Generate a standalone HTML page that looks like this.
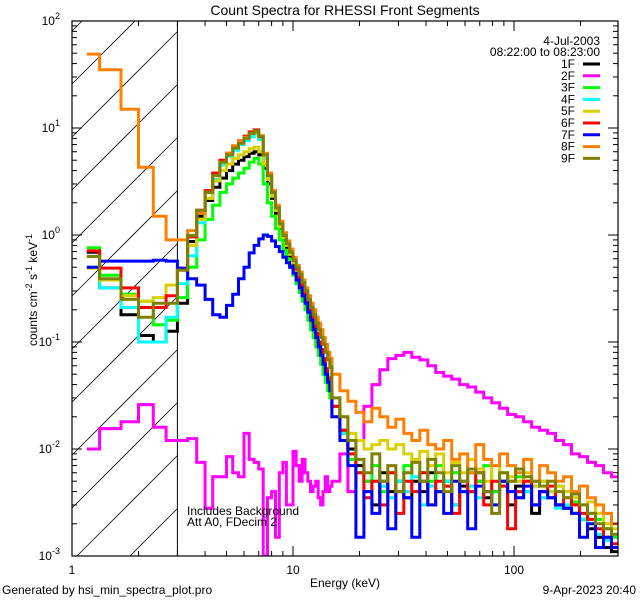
<!DOCTYPE html>
<html><head><meta charset="utf-8"><style>
html,body{margin:0;padding:0;background:#fff;width:640px;height:600px;overflow:hidden;}
svg{display:block;font-family:"Liberation Sans",sans-serif;}
</style></head><body>
<svg id="chart" width="640" height="600" viewBox="0 0 640 600" xmlns="http://www.w3.org/2000/svg">
<rect width="640" height="600" fill="#fff"/>
<text x="345" y="15" font-size="14" text-anchor="middle">Count Spectra for RHESSI Front Segments</text>
<defs><clipPath id="pc"><rect x="72" y="21" width="546" height="535"/></clipPath></defs>
<g id="hatch"></g>
<line x1="177.4" y1="21" x2="177.4" y2="556" stroke="#000" stroke-width="1"/>
<g id="series" clip-path="url(#pc)"></g>
<rect x="72" y="21" width="546" height="535" fill="none" stroke="#000" stroke-width="1.2"/>
<g id="ticks"></g>
<text x="345" y="587" font-size="12" text-anchor="middle">Energy (keV)</text>
<text transform="translate(37,290) rotate(-90)" font-size="12" text-anchor="middle">counts cm<tspan dy="-5" font-size="9">-2</tspan><tspan dy="5"> s</tspan><tspan dy="-5" font-size="9">-1</tspan><tspan dy="5"> keV</tspan><tspan dy="-5" font-size="9">-1</tspan></text>
<text x="187" y="515" font-size="12">Includes Background</text>
<text x="187" y="526" font-size="12">Att A0, FDecim 2</text>
<text x="600" y="45" font-size="12" text-anchor="end">4-Jul-2003</text>
<text x="600" y="56" font-size="12" text-anchor="end">08:22:00 to 08:23:00</text>
<g id="legend"></g>
<text x="2" y="594" font-size="12">Generated by hsi_min_spectra_plot.pro</text>
<text x="636" y="594" font-size="12" text-anchor="end">9-Apr-2023 20:40</text>
</svg>
<script>
const seriesNames = ["1F","2F","3F","4F","5F","6F","7F","8F","9F"];
const seriesColors = ["#000000","#ff00ff","#00ff00","#00ffff","#d8d000","#ff0000","#0000ff","#ff8000","#808000"];
const xTicks = [1,10,100];
const xTickLabels = ["1","10","100"];
const yTickExps = [2,1,0,-1,-2,-3];
const lo1F = [0.69,0.32,0.18,0.115,0.10,0.126,0.23,0.87,1.5,2.1,2.8,3.4,4.0,4.6,5.0,5.4,5.8,6.0,5.6,4.2,3.0,2.2,1.6,1.15,0.9,0.75,0.62,0.52,0.44,0.37,0.3,0.24,0.19,0.16,0.13,0.11,0.09,0.075,0.062,0.05,0.042,0.036];
const hi1F = [0.025,0.015,0.01,0.007,0.005,0.003,0.006,0.004,0.005,0.0035,0.005,0.004,0.006,0.004,0.005,0.003,0.0045,0.004,0.005,0.0035,0.004,0.005,0.003,0.0045,0.004,0.0025,0.004,0.0035,0.003,0.0028,0.0025,0.0022,0.0018,0.0015,0.0012,0.0011];
const lo2F = [0.01,0.0155,0.018,0.026,0.016,0.012,0.012,0.0125,0.0075,0.0028,0.0055,0.0055,0.0085,0.006,0.0055,0.014,0.008,0.0075,0.0065,0.001,0.0035,0.004,0.0015,0.006,0.0075,0.003,0.003,0.0095,0.007,0.005,0.008,0.006,0.005,0.004,0.0045,0.005,0.0035,0.003,0.004,0.0055,0.004,0.0045];
const hi2F = [0.005,0.009,0.004,0.012,0.025,0.04,0.055,0.07,0.075,0.08,0.072,0.068,0.06,0.052,0.048,0.045,0.04,0.038,0.034,0.03,0.027,0.024,0.021,0.02,0.018,0.016,0.015,0.014,0.012,0.011,0.009,0.0085,0.0075,0.007,0.006,0.0055];
const lo3F = [0.76,0.42,0.28,0.24,0.145,0.16,0.26,0.5,0.9,1.4,1.9,2.5,3.0,3.4,3.8,4.2,4.8,5.2,4.6,3.0,2.0,1.5,1.15,0.9,0.72,0.6,0.5,0.42,0.35,0.29,0.24,0.2,0.16,0.13,0.11,0.09,0.075,0.062,0.05,0.042,0.035,0.03];
const hi3F = [0.02,0.014,0.008,0.006,0.005,0.007,0.004,0.006,0.005,0.007,0.004,0.006,0.005,0.007,0.005,0.006,0.004,0.006,0.005,0.007,0.004,0.006,0.005,0.0055,0.005,0.0045,0.005,0.004,0.0045,0.004,0.0032,0.003,0.0025,0.0022,0.0018,0.0015];
const lo4F = [0.5,0.32,0.21,0.10,0.10,0.17,0.35,0.64,1.3,2.2,3.3,4.5,5.4,6.2,7.0,7.6,8.3,8.8,7.8,5.2,3.4,2.4,1.7,1.25,0.95,0.8,0.66,0.55,0.46,0.38,0.31,0.25,0.2,0.17,0.14,0.12,0.1,0.082,0.068,0.055,0.046,0.039];
const hi4F = [0.025,0.014,0.009,0.006,0.004,0.005,0.0045,0.0035,0.005,0.004,0.0055,0.003,0.0045,0.004,0.005,0.003,0.004,0.0045,0.0035,0.004,0.003,0.0045,0.004,0.0035,0.004,0.003,0.0035,0.004,0.0028,0.003,0.0025,0.0022,0.002,0.0016,0.0014,0.0012];
const lo5F = [0.49,0.38,0.27,0.24,0.26,0.34,0.47,0.8,1.4,2.2,3.2,4.0,4.6,5.2,5.6,6.0,6.4,6.6,6.0,4.6,3.3,2.3,1.7,1.2,0.95,0.8,0.66,0.55,0.47,0.39,0.31,0.25,0.2,0.17,0.14,0.12,0.1,0.085,0.07,0.057,0.047,0.04];
const hi5F = [0.03,0.02,0.014,0.012,0.01,0.011,0.012,0.01,0.011,0.009,0.008,0.0095,0.007,0.009,0.006,0.0075,0.006,0.008,0.0065,0.005,0.007,0.006,0.0055,0.005,0.006,0.0045,0.005,0.004,0.0045,0.004,0.0035,0.003,0.0032,0.0025,0.002,0.0018];
const lo6F = [0.71,0.49,0.32,0.21,0.21,0.27,0.47,0.96,1.7,2.6,3.8,5.0,5.8,6.8,7.6,8.4,9.2,9.6,8.4,5.6,3.6,2.5,1.8,1.3,1.0,0.84,0.7,0.58,0.48,0.4,0.32,0.26,0.21,0.18,0.15,0.12,0.1,0.085,0.07,0.056,0.046,0.039];
const hi6F = [0.025,0.015,0.009,0.006,0.0035,0.005,0.003,0.006,0.0025,0.005,0.004,0.006,0.003,0.005,0.0045,0.0025,0.005,0.004,0.006,0.003,0.005,0.0045,0.0018,0.004,0.005,0.003,0.004,0.0045,0.003,0.0035,0.003,0.0025,0.0022,0.0018,0.0015,0.0013];
const lo7F = [0.5,0.57,0.57,0.57,0.58,0.57,0.49,0.39,0.34,0.25,0.18,0.17,0.22,0.28,0.39,0.5,0.68,0.8,0.92,1.0,0.97,0.88,0.78,0.7,0.62,0.55,0.5,0.44,0.38,0.32,0.27,0.23,0.19,0.16,0.13,0.11,0.09,0.075,0.062,0.05,0.042,0.035];
const hi7F = [0.02,0.012,0.007,0.0015,0.004,0.0025,0.005,0.0018,0.004,0.0035,0.0015,0.005,0.003,0.004,0.0025,0.005,0.004,0.0018,0.0045,0.004,0.003,0.005,0.004,0.0035,0.0045,0.003,0.004,0.0035,0.003,0.0028,0.0025,0.0015,0.002,0.0012,0.0015,0.0012];
const lo8F = [49,35,15,4.3,1.5,0.9,0.9,1.1,1.6,2.5,3.6,4.8,5.8,6.8,7.6,8.2,8.9,9.2,8.5,5.8,3.8,2.6,1.9,1.35,1.05,0.88,0.74,0.62,0.52,0.45,0.38,0.32,0.27,0.23,0.2,0.17,0.15,0.13,0.11,0.095,0.08,0.07];
const hi8F = [0.05,0.035,0.028,0.022,0.018,0.024,0.02,0.016,0.019,0.014,0.012,0.015,0.011,0.01,0.012,0.008,0.009,0.006,0.011,0.008,0.007,0.009,0.007,0.006,0.008,0.005,0.007,0.006,0.005,0.0055,0.004,0.0045,0.0035,0.003,0.0025,0.002];
const lo9F = [0.63,0.39,0.25,0.17,0.23,0.23,0.47,0.99,1.7,2.5,3.6,4.8,5.6,6.5,7.2,8.0,8.9,9.4,8.3,5.6,3.6,2.5,1.8,1.27,0.99,0.83,0.69,0.58,0.5,0.43,0.36,0.3,0.25,0.21,0.18,0.15,0.13,0.11,0.095,0.08,0.068,0.058];
const hi9F = [0.03,0.02,0.012,0.008,0.006,0.009,0.005,0.007,0.004,0.006,0.0075,0.005,0.008,0.006,0.004,0.007,0.005,0.0065,0.006,0.004,0.0025,0.006,0.005,0.0065,0.0055,0.005,0.0045,0.005,0.004,0.0035,0.0038,0.003,0.0025,0.002,0.0018,0.0016];
const loSeries = [lo1F,lo2F,lo3F,lo4F,lo5F,lo6F,lo7F,lo8F,lo9F];
const hiSeries = [hi1F,hi2F,hi3F,hi4F,hi5F,hi6F,hi7F,hi8F,hi9F];

const NS="http://www.w3.org/2000/svg";
const X0=72,X1=618,Y0=21,Y1=556, DEC_X=221, DEC_Y=107, XH=177.4;
function xs(e){return X0+DEC_X*Math.log10(e);}
function ys(v){return Y0+DEC_Y*(2-Math.log10(v));}
function mk(tag,attrs,parent){const el=document.createElementNS(NS,tag);for(const k in attrs)el.setAttribute(k,attrs[k]);parent.appendChild(el);return el;}

const loEdges=[7/6]; for(let i=1;i<=42;i++) loEdges.push(1+i/3);
const hiEdges=[]; for(let k=0;k<=36;k++) hiEdges.push(15*Math.pow(20,k/36));

// hatch lines clipped to the hatched rectangle: y = c - (x - X0)
const hatch=document.getElementById('hatch');
for(let c=Y0+10;c<Y1+(XH-X0);c+=53){
  const xa=X0+Math.max(0,c-Y1), xb=Math.min(XH,X0+c-Y0);
  if(xb<=xa) continue;
  const ln=mk('line',{x1:xa,y1:c-(xa-X0),x2:xb,y2:c-(xb-X0),stroke:'#000','stroke-width':0.8},hatch);
  
  
}

const sg=document.getElementById('series');
seriesNames.forEach((nm,si)=>{
  const lo=loSeries[si], hi=hiSeries[si];
  let d='';
  for(let i=0;i<lo.length;i++){const y=ys(lo[i]).toFixed(1);d+=(i===0?'M':'L')+xs(loEdges[i]).toFixed(1)+','+y+'L'+xs(loEdges[i+1]).toFixed(1)+','+y;}
  for(let i=0;i<hi.length;i++){const y=ys(hi[i]).toFixed(1);d+='L'+xs(hiEdges[i]).toFixed(1)+','+y+'L'+xs(hiEdges[i+1]).toFixed(1)+','+y;}
  const p=mk('path',{d:d,fill:'none',stroke:seriesColors[si],'stroke-width':3,'stroke-linejoin':'miter'},sg);
  
  
});

const tg=document.getElementById('ticks');
for(let dec=0;dec<3;dec++){
  for(let m=1;m<=9;m++){
    const e=m*Math.pow(10,dec); if(e>292) break;
    const x=xs(e), L=(m===1)?10:5;
    const t1=mk('line',{x1:x,y1:Y1,x2:x,y2:Y1-L,stroke:'#000','stroke-width':1},tg);
    
    
    const t2=mk('line',{x1:x,y1:Y0,x2:x,y2:Y0+L,stroke:'#000','stroke-width':1},tg);
    
    
  }
}
xTicks.forEach((e,i)=>{
  const t=mk('text',{x:xs(e),y:Y1+18,'font-size':12,'text-anchor':'middle'},tg);
  t.textContent=xTickLabels[i];
  
  
});
yTickExps.forEach(ex=>{
  for(let m=1;m<=9;m++){
    const v=m*Math.pow(10,ex); if(ex===2&&m>1) break;
    const y=ys(v), L=(m===1)?10:5;
    const a=mk('line',{x1:X0,y1:y,x2:X0+L,y2:y,stroke:'#000','stroke-width':1},tg);
    
    
    const b=mk('line',{x1:X1,y1:y,x2:X1-L,y2:y,stroke:'#000','stroke-width':1},tg);
    
    
  }
  const t=mk('text',{x:X0-12,y:ys(Math.pow(10,ex))+4,'font-size':12,'text-anchor':'end'},tg);
  
  
  t.appendChild(document.createTextNode('10'));
  const s=mk('tspan',{dy:-6,'font-size':9},t); s.textContent=String(ex);
});

const lg=document.getElementById('legend');
seriesNames.forEach((nm,i)=>{
  const y=64+i*11.8;
  const t=mk('text',{x:575,y:y+4,'font-size':12,'text-anchor':'end'},lg);
  t.textContent=nm;
  
  
  const l=mk('line',{x1:583,y1:y,x2:600,y2:y,stroke:seriesColors[i],'stroke-width':3},lg);
  
  
});
</script>
</body></html>
